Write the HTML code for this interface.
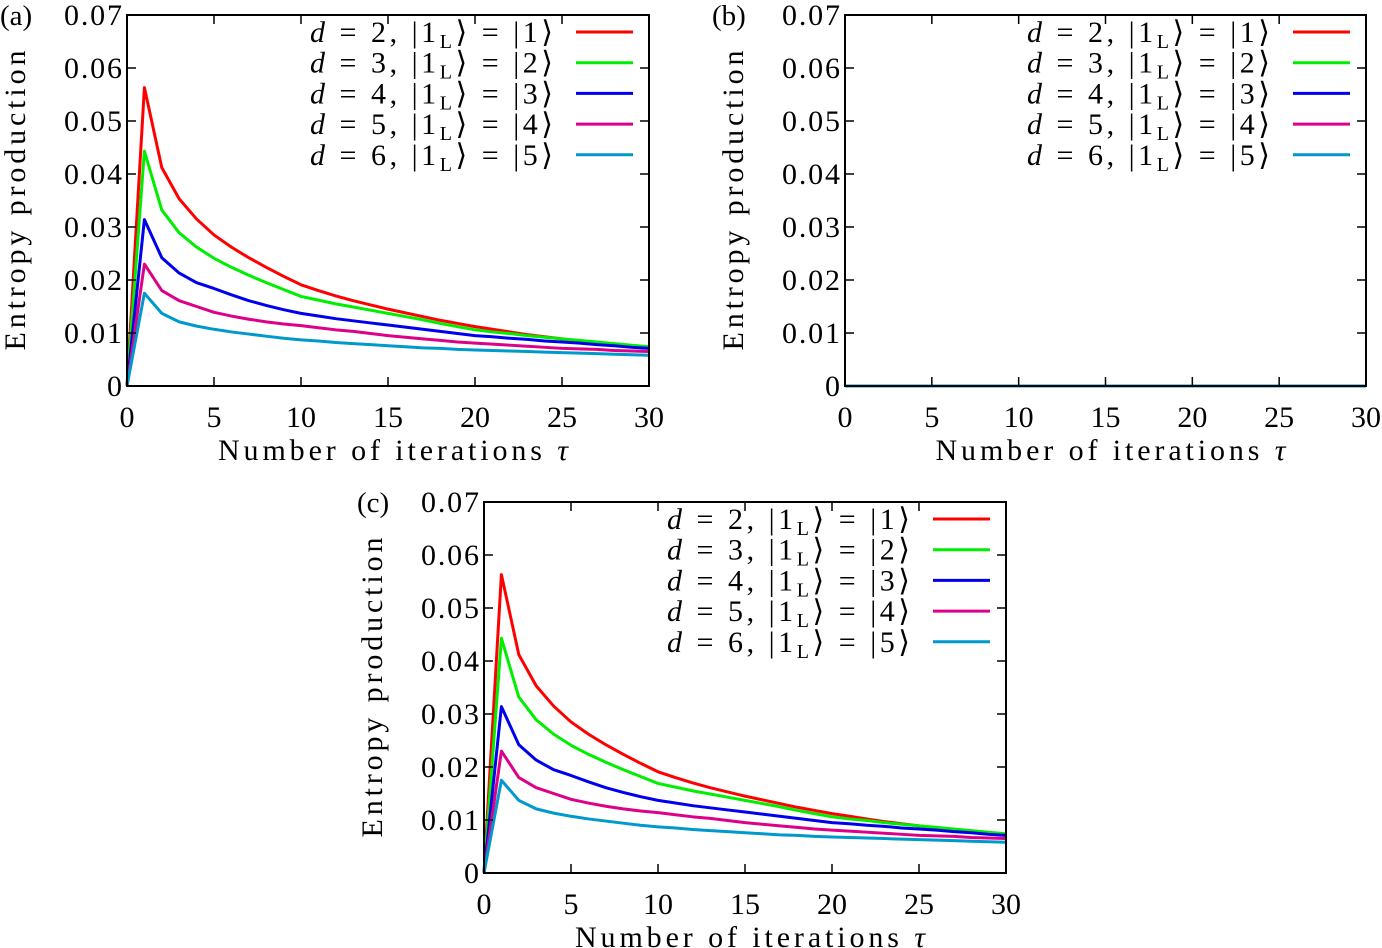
<!DOCTYPE html>
<html><head><meta charset="utf-8"><style>
html,body{margin:0;padding:0;background:#fff;}
svg{display:block;font-family:"Liberation Serif",serif;}
</style></head><body>
<svg id="fig" width="1382" height="948" viewBox="0 0 1382 948" xmlns="http://www.w3.org/2000/svg"></svg>
<script>
const taus = [0,1,2,3,4,5,6,7,8,9,10,11,12,13,14,15,16,17,18,19,20,21,22,23,24,25,26,27,28,29,30];
const seriesD2 = [0,.0563,.0412,.0353,.0315,.0285,.0262,.0242,.0224,.0207,.0191,.0180,.0170,.0161,.0153,.0145,.0138,.0131,.0124,.0118,.0112,.0107,.0102,.0097,.0093,.0089,.0085,.0082,.0079,.0076,.0073];
const seriesD3 = [0,.0443,.0332,.0289,.0262,.0241,.0224,.0209,.0195,.0182,.0169,.0162,.0155,.0149,.0143,.0137,.0131,.0125,.0118,.0112,.0106,.0102,.0099,.0095,.0092,.0089,.0086,.0083,.0080,.0077,.0074];
const seriesD4 = [0,.0314,.0242,.0213,.0195,.0184,.0172,.0161,.0152,.0144,.0137,.0132,.0127,.0123,.0119,.0115,.0111,.0107,.0103,.0099,.0095,.0093,.0090,.0088,.0085,.0083,.0081,.0078,.0076,.0073,.0071];
const seriesD5 = [0,.023,.018,.0161,.015,.0139,.0132,.0126,.0121,.0117,.0114,.0110,.0106,.0103,.0099,.0095,.0092,.0089,.0086,.0083,.0081,.0079,.0077,.0075,.0073,.0071,.0070,.0069,.0067,.0066,.0065];
const seriesD6 = [0,.0175,.0137,.0121,.0113,.0107,.0102,.0098,.0094,.0090,.0087,.0085,.0082,.0080,.0078,.0076,.0074,.0072,.0071,.0069,.0068,.0067,.0066,.0065,.0064,.0063,.0062,.0061,.0060,.0059,.0058];
const seriesZero = [0,0,0,0,0,0,0,0,0,0,0,0,0,0,0,0,0,0,0,0,0,0,0,0,0,0,0,0,0,0,0];
const xTicks = [0,5,10,15,20,25,30];
const yTicks = [0,0.01,0.02,0.03,0.04,0.05,0.06,0.07];
const yTickLabels = ["0","0.01","0.02","0.03","0.04","0.05","0.06","0.07"];
const legendDs = ["2","3","4","5","6"];
const legendKets = ["1","2","3","4","5"];
const colors = ["#ff0000","#00ee00","#0000ee","#dd0088","#0099cc"];

const NS="http://www.w3.org/2000/svg";
const svg=document.getElementById('fig');
function mk(tag,attrs,parent){const e=document.createElementNS(NS,tag);for(const k in attrs)e.setAttribute(k,attrs[k]);(parent||svg).appendChild(e);return e;}

function panel(tag,L,R,T,B,data,labX){
  const g=mk('g',{});
  
  
  const xs=v=>L+(v/30)*(R-L);
  const ys=v=>B-(v/0.07)*(B-T);
  data.forEach((arr,i)=>{
    const p=mk('polyline',{points:taus.map((t,j)=>xs(t)+','+ys(arr[j])).join(' '),fill:'none',stroke:colors[i],'stroke-width':3,'stroke-linejoin':'round'},g);
    
    
  });
  const f=mk('rect',{x:L,y:T,width:R-L,height:B-T,fill:'none',stroke:'#000','stroke-width':2},g);
  
  
  xTicks.forEach(v=>{
    const x=xs(v);
    mk('line',{x1:x,y1:B,x2:x,y2:B-9,stroke:'#000','stroke-width':1.5},g);
    mk('line',{x1:x,y1:T,x2:x,y2:T+9,stroke:'#000','stroke-width':1.5},g);
    const t=mk('text',{x:x,y:B+41,'font-size':30,'text-anchor':'middle'},g);
    t.textContent=v;
    
    
  });
  yTicks.forEach((v,i)=>{
    const y=ys(v);
    mk('line',{x1:L,y1:y,x2:L+9,y2:y,stroke:'#000','stroke-width':1.5},g);
    mk('line',{x1:R,y1:y,x2:R-9,y2:y,stroke:'#000','stroke-width':1.5},g);
    const t=mk('text',{x:L-5,y:y+10,'font-size':30,'text-anchor':'end'},g);
    if(i>0){t.setAttribute('textLength',58);t.setAttribute('lengthAdjust','spacing');}
    t.textContent=yTickLabels[i];
    
    
  });
  const pl=mk('text',{x:labX,y:T+10,'font-size':29},g);
  pl.textContent='('+tag+')';
  
  
  const yl=mk('text',{x:0,y:0,'font-size':30,'text-anchor':'middle',textLength:300,lengthAdjust:'spacing',transform:`translate(${L-102},${(T+B)/2}) rotate(-90)`},g);
  yl.textContent='Entropy production';
  
  
  const xl=mk('text',{x:(L+R)/2+5,y:B+74,'font-size':30,'text-anchor':'middle',textLength:350,lengthAdjust:'spacing'},g);
  xl.innerHTML='Number of iterations <tspan font-style="italic">τ</tspan>';
  
  
  legendDs.forEach((d,i)=>{
    const y=T+17+i*30.7;
    const t=mk('text',{x:R-96,y:y+10,'font-size':30,'text-anchor':'end',textLength:243,lengthAdjust:'spacing'},g);
    t.innerHTML=`<tspan font-style="italic">d</tspan> = ${d}, |1<tspan font-size="20" dy="6">L</tspan><tspan dy="-6">⟩ = |${legendKets[i]}⟩</tspan>`;
    
    
    const ln=mk('line',{x1:R-73,y1:y,x2:R-16,y2:y,stroke:colors[i],'stroke-width':3},g);
    
    
  });
}
const full=[seriesD2,seriesD3,seriesD4,seriesD5,seriesD6];
panel('a',127,649,15,386,full,0);
panel('b',845,1366,15,386,[seriesZero,seriesZero,seriesZero,seriesZero,seriesZero],712);
panel('c',484,1006,502,873,full,357);
</script>
</body></html>
